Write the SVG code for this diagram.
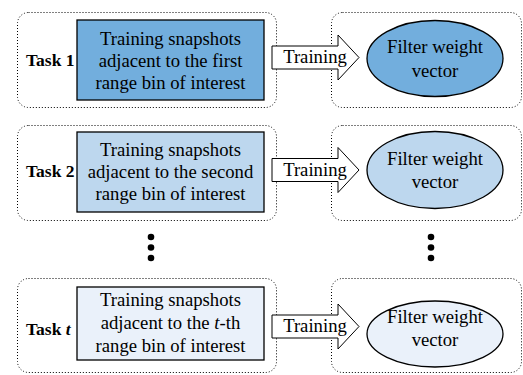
<svg xmlns="http://www.w3.org/2000/svg" width="523" height="375" viewBox="0 0 523 375">
  <style>
    .frame { fill: none; stroke: #000; stroke-width: 1; stroke-dasharray: 1 2; }
    .box { stroke: #000; stroke-width: 1.3; }
    .oval { stroke: #000; stroke-width: 1.3; }
    .arrow { fill: #fff; stroke: #000; stroke-width: 1; }
    .txt { font-family: "Liberation Serif", "Times New Roman", serif; font-size: 18.7px; fill: #000; text-anchor: middle; }
    .lbl { font-family: "Liberation Serif", "Times New Roman", serif; font-size: 17.5px; font-weight: bold; fill: #000; }
    .c1 { fill: #72aedd; }
    .c2 { fill: #bdd7ee; }
    .c3 { fill: #eaf1fa; }
    .dot { fill: #000; }
  </style>

  <!-- dotted task frames -->
  <g id="frames">
    <rect class="frame" x="17.5" y="12.5" width="259" height="95" rx="11"/>
    <rect class="frame" x="331.5" y="12.5" width="190" height="95" rx="11"/>
    <rect class="frame" x="17.5" y="125.5" width="259" height="95" rx="11"/>
    <rect class="frame" x="331.5" y="125.5" width="190" height="95" rx="11"/>
    <rect class="frame" x="17.5" y="278.5" width="259" height="94" rx="11"/>
    <rect class="frame" x="331.5" y="278.5" width="190" height="94" rx="11"/>
  </g>

  <!-- task labels -->
  <g id="labels">
    <text class="lbl" x="26" y="66">Task 1</text>
    <text class="lbl" x="26" y="177">Task 2</text>
    <text class="lbl" x="26" y="335">Task <tspan font-style="italic">t</tspan></text>
  </g>

  <!-- training snapshot nodes -->
  <g id="snapshots-1">
    <rect class="box c1" x="77" y="20" width="187" height="80"/>
    <text class="txt" x="170.5" y="45">Training snapshots</text>
    <text class="txt" x="170.5" y="67">adjacent to the first</text>
    <text class="txt" x="170.5" y="89">range bin of interest</text>
  </g>
  <g id="snapshots-2">
    <rect class="box c2" x="77" y="132" width="187" height="80"/>
    <text class="txt" x="170.5" y="156">Training snapshots</text>
    <text class="txt" x="170.5" y="178">adjacent to the second</text>
    <text class="txt" x="170.5" y="200">range bin of interest</text>
  </g>
  <g id="snapshots-t">
    <rect class="box c3" x="77" y="287" width="187" height="73"/>
    <text class="txt" x="170.5" y="306">Training snapshots</text>
    <text class="txt" x="170.5" y="329">adjacent to the <tspan font-style="italic">t</tspan>-th</text>
    <text class="txt" x="170.5" y="352">range bin of interest</text>
  </g>

  <!-- training arrows -->
  <g id="connectors">
    <path class="arrow" d="M272,46 H338 V35 L359,57.5 L338,80 V69 H272 Z"/>
    <text class="txt" x="315" y="63">Training</text>
    <path class="arrow" d="M272,158.5 H338 V147.5 L359,170 L338,192.5 V181.5 H272 Z"/>
    <text class="txt" x="315" y="176">Training</text>
    <path class="arrow" d="M272,315 H338 V304 L359,326.5 L338,349 V338 H272 Z"/>
    <text class="txt" x="315" y="332">Training</text>
  </g>

  <!-- filter weight vector nodes -->
  <g id="weights-1">
    <ellipse class="oval c1" cx="435" cy="58.5" rx="68" ry="38"/>
    <text class="txt" x="435" y="53">Filter weight</text>
    <text class="txt" x="435" y="77">vector</text>
  </g>
  <g id="weights-2">
    <ellipse class="oval c2" cx="435" cy="170" rx="68" ry="38.5"/>
    <text class="txt" x="435" y="165">Filter weight</text>
    <text class="txt" x="435" y="188">vector</text>
  </g>
  <g id="weights-t">
    <ellipse class="oval c3" cx="435" cy="334" rx="68" ry="33"/>
    <text class="txt" x="435" y="323">Filter weight</text>
    <text class="txt" x="435" y="346">vector</text>
  </g>

  <!-- vertical ellipsis between task 2 and task t -->
  <g id="ellipsis">
    <circle class="dot" cx="151" cy="237" r="3.3"/>
    <circle class="dot" cx="151" cy="247.5" r="3.3"/>
    <circle class="dot" cx="151" cy="258" r="3.3"/>
    <circle class="dot" cx="431" cy="237" r="3.3"/>
    <circle class="dot" cx="431" cy="247.5" r="3.3"/>
    <circle class="dot" cx="431" cy="258" r="3.3"/>
  </g>
</svg>
